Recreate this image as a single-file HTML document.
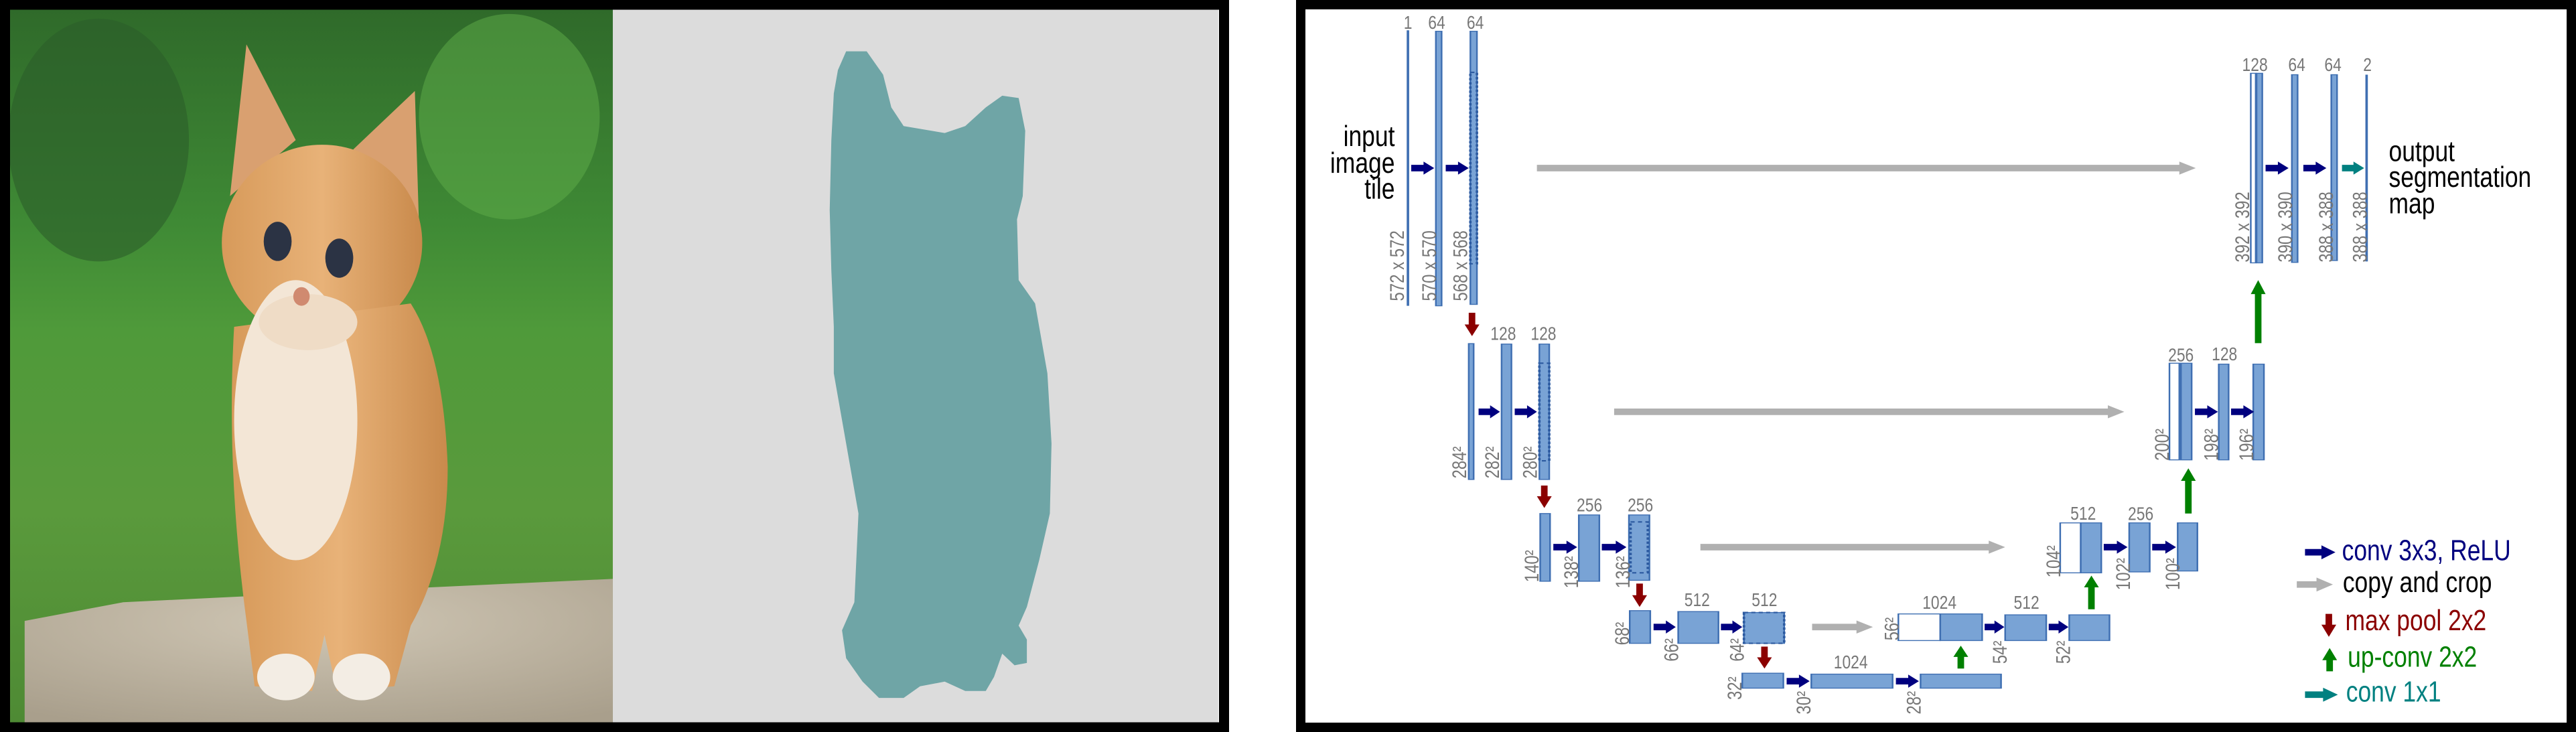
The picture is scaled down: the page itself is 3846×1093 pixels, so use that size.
<!DOCTYPE html>
<html><head><meta charset="utf-8"><style>
html,body{margin:0;padding:0;background:#fff;width:3846px;height:1093px;overflow:hidden}
svg{display:block}
.bar{fill:#79a3d5;stroke:#3f6fb2;stroke-width:2}
.wbar{fill:#fff;stroke:#3f6fb2;stroke-width:2}
.lbl{font-family:"Liberation Sans",sans-serif;fill:#777}
.big{font-family:"Liberation Sans",sans-serif}
</style></head><body>
<svg width="3846" height="1093" viewBox="0 0 3846 1093" xmlns="http://www.w3.org/2000/svg">
<defs>
<linearGradient id="bg" x1="0" y1="0" x2="0" y2="1">
<stop offset="0" stop-color="#2f6a2a"/><stop offset="0.3" stop-color="#3f8a35"/><stop offset="0.45" stop-color="#4f9a3a"/><stop offset="0.7" stop-color="#5a9a3c"/><stop offset="1" stop-color="#4e8a34"/></linearGradient>
<linearGradient id="fur" x1="0" y1="0" x2="1" y2="0"><stop offset="0" stop-color="#d79a5a"/><stop offset="0.5" stop-color="#e8b278"/><stop offset="1" stop-color="#c98a4c"/></linearGradient>
<radialGradient id="rock" cx="0.5" cy="0.3" r="0.8"><stop offset="0" stop-color="#cfc6b4"/><stop offset="1" stop-color="#a99f8c"/></radialGradient>
</defs>

<g transform="scale(1.2265,0.6971)">
 <rect x="12" y="20" width="734" height="1530" fill="url(#bg)"/>
 <ellipse cx="120" cy="300" rx="110" ry="260" fill="#2c5e2a" opacity="0.6"/>
 <ellipse cx="620" cy="250" rx="110" ry="220" fill="#5fae4a" opacity="0.5"/>
 <polygon points="30,1330 150,1290 500,1260 746,1240 746,1548 30,1548" fill="url(#rock)"/>
 <polygon points="280,420 300,95 360,300" fill="#d9a070"/>
 <polygon points="430,320 505,195 510,480" fill="#d9a070"/>
 <ellipse cx="392" cy="520" rx="122" ry="210" fill="url(#fur)"/>
 <path d="M285,700 Q275,1000 300,1330 L310,1470 L380,1480 L395,1360 L410,1480 L480,1470 L500,1340 Q545,1200 545,1000 Q540,760 500,650 Z" fill="url(#fur)"/>
 <ellipse cx="360" cy="900" rx="75" ry="300" fill="#f3e6d6"/>
 <ellipse cx="375" cy="690" rx="60" ry="60" fill="#efdcc6"/>
 <ellipse cx="348" cy="1450" rx="35" ry="50" fill="#f3ede4"/>
 <ellipse cx="440" cy="1450" rx="35" ry="50" fill="#f3ede4"/>
 <ellipse cx="338" cy="517" rx="17" ry="42" fill="#2b3344"/>
 <ellipse cx="413" cy="553" rx="17" ry="42" fill="#2b3344"/>
 <ellipse cx="367" cy="635" rx="10" ry="20" fill="#d08a70"/>
 <rect x="746" y="20" width="737" height="1530" fill="#dcdcdc"/>
 <path fill="#6fa5a6" d="M1030,110 L1055,110 L1075,160 L1085,230 L1100,270 L1150,285 L1175,270 L1200,230 L1220,205 L1240,210 L1248,280 L1245,420 L1238,470 L1240,600 L1260,650 L1275,800 L1280,950 L1278,1100 L1265,1200 L1250,1300 L1240,1340 L1250,1370 L1250,1420 L1235,1425 L1220,1400 L1210,1450 L1200,1480 L1175,1480 L1150,1460 L1120,1470 L1100,1495 L1070,1495 L1050,1460 L1030,1410 L1025,1350 L1040,1290 L1045,1100 L1030,950 L1015,800 L1015,700 L1012,580 L1010,450 L1012,300 L1015,200 L1020,150 Z"/>
</g>
<rect x="7.5" y="7" width="1820" height="1079" fill="none" stroke="#000" stroke-width="15"/>

<rect x="1942" y="7" width="1897" height="1079" fill="none" stroke="#000" stroke-width="14"/>
<g transform="translate(1923,0) scale(1.2265,0.6971)">
<line x1="146" y1="65" x2="146" y2="655" stroke="#3f6fb2" stroke-width="3"/>
<rect class="bar" x="180" y="67" width="7" height="588"/>
<rect class="bar" x="222" y="67" width="8" height="585"/>
<rect x="222" y="155" width="8" height="410" fill="none" stroke="#2c5aa0" stroke-width="3" stroke-dasharray="5,4"/>
<polygon fill="#00007f" points="150,353 165,353 165,346 178,360 165,374 165,367 150,367"/>
<polygon fill="#00007f" points="192,353 207,353 207,346 220,360 207,374 207,367 192,367"/>
<polygon fill="#b0b0b0" points="303,353 1085,353 1085,346 1105,360 1085,374 1085,367 303,367"/>
<rect class="wbar" x="1172" y="157" width="6" height="406"/>
<rect class="bar" x="1179" y="157" width="7" height="406"/>
<rect class="bar" x="1222" y="160" width="7" height="402"/>
<rect class="bar" x="1270" y="160" width="7" height="398"/>
<line x1="1313" y1="160" x2="1313" y2="560" stroke="#3f6fb2" stroke-width="3"/>
<polygon fill="#00007f" points="1190,353 1205,353 1205,346 1218,360 1205,374 1205,367 1190,367"/>
<polygon fill="#00007f" points="1236,353 1251,353 1251,346 1264,360 1251,374 1251,367 1236,367"/>
<polygon fill="#008080" points="1283,353 1297,353 1297,346 1310,360 1297,374 1297,367 1283,367"/>
<polygon fill="#008000" points="1177,735 1177,630 1172,630 1181,600 1190,630 1185,630 1185,735"/>
<polygon fill="#8b0000" points="220,670 228,670 228,695 233,695 224,720 215,695 220,695"/>
<rect class="bar" x="220" y="736" width="6" height="291"/>
<rect class="bar" x="260" y="737" width="12" height="290"/>
<rect class="bar" x="306" y="737" width="12" height="290"/>
<rect x="306" y="778" width="12" height="209" fill="none" stroke="#2c5aa0" stroke-width="3" stroke-dasharray="5,4"/>
<polygon fill="#00007f" points="232,875 246,875 246,868 258,882 246,896 246,889 232,889"/>
<polygon fill="#00007f" points="276,875 291,875 291,868 303,882 291,896 291,889 276,889"/>
<polygon fill="#b0b0b0" points="397,875 998,875 998,868 1018,882 998,896 998,889 397,889"/>
<rect class="wbar" x="1073" y="778" width="12" height="207"/>
<rect class="bar" x="1087" y="778" width="13" height="207"/>
<rect class="bar" x="1133" y="780" width="12" height="205"/>
<rect class="bar" x="1175" y="780" width="13" height="205"/>
<polygon fill="#00007f" points="1104,875 1119,875 1119,868 1132,882 1119,896 1119,889 1104,889"/>
<polygon fill="#00007f" points="1148,875 1163,875 1163,868 1176,882 1163,896 1163,889 1148,889"/>
<polygon fill="#008000" points="1092,1100 1092,1030 1087,1030 1096,1003 1105,1030 1100,1030 1100,1100"/>
<polygon fill="#8b0000" points="308,1040 316,1040 316,1063 321,1063 312,1088 303,1063 308,1063"/>
<rect class="bar" x="307" y="1100" width="12" height="145"/>
<rect class="bar" x="354" y="1103" width="25" height="142"/>
<rect class="bar" x="415" y="1103" width="25" height="140"/>
<rect x="417" y="1118" width="21" height="109" fill="none" stroke="#2c5aa0" stroke-width="3" stroke-dasharray="5,4"/>
<polygon fill="#00007f" points="323,1165 339,1165 339,1158 352,1172 339,1186 339,1179 323,1179"/>
<polygon fill="#00007f" points="382,1165 399,1165 399,1158 412,1172 399,1186 399,1179 382,1179"/>
<polygon fill="#b0b0b0" points="502,1165 853,1165 853,1158 873,1172 853,1186 853,1179 502,1179"/>
<rect class="wbar" x="940" y="1120" width="25" height="107"/>
<rect class="bar" x="965" y="1120" width="25" height="107"/>
<rect class="bar" x="1024" y="1120" width="25" height="105"/>
<rect class="bar" x="1083" y="1120" width="24" height="103"/>
<polygon fill="#00007f" points="993,1165 1009,1165 1009,1158 1022,1172 1009,1186 1009,1179 993,1179"/>
<polygon fill="#00007f" points="1052,1165 1068,1165 1068,1158 1081,1172 1068,1186 1068,1179 1052,1179"/>
<polygon fill="#008000" points="974,1305 974,1258 969,1258 978,1233 987,1258 982,1258 982,1305"/>
<polygon fill="#8b0000" points="424,1250 432,1250 432,1275 437,1275 428,1300 419,1275 424,1275"/>
<rect class="bar" x="416" y="1308" width="25" height="70"/>
<rect class="bar" x="475" y="1310" width="49" height="68"/>
<rect class="bar" x="555" y="1312" width="49" height="66"/>
<rect x="555" y="1312" width="49" height="66" fill="none" stroke="#2c5aa0" stroke-width="3" stroke-dasharray="5,4"/>
<polygon fill="#00007f" points="445,1336 460,1336 460,1329 472,1343 460,1357 460,1350 445,1350"/>
<polygon fill="#00007f" points="527,1336 541,1336 541,1329 553,1343 541,1357 541,1350 527,1350"/>
<polygon fill="#b0b0b0" points="638,1336 692,1336 692,1329 712,1343 692,1357 692,1350 638,1350"/>
<rect class="wbar" x="743" y="1315" width="51" height="57"/>
<rect class="bar" x="794" y="1315" width="51" height="57"/>
<rect class="bar" x="873" y="1317" width="50" height="55"/>
<rect class="bar" x="951" y="1317" width="49" height="55"/>
<polygon fill="#00007f" points="848,1336 860,1336 860,1329 872,1343 860,1357 860,1350 848,1350"/>
<polygon fill="#00007f" points="926,1336 938,1336 938,1329 950,1343 938,1357 938,1350 926,1350"/>
<polygon fill="#008000" points="815,1432 815,1407 810,1407 819,1383 828,1407 823,1407 823,1432"/>
<polygon fill="#8b0000" points="576,1385 584,1385 584,1408 589,1408 580,1432 571,1408 576,1408"/>
<rect class="bar" x="553" y="1442" width="50" height="32"/>
<rect class="bar" x="637" y="1444" width="99" height="30"/>
<rect class="bar" x="770" y="1444" width="98" height="30"/>
<polygon fill="#00007f" points="607,1452 622,1452 622,1445 635,1459 622,1473 622,1466 607,1466"/>
<polygon fill="#00007f" points="740,1452 755,1452 755,1445 768,1459 755,1473 755,1466 740,1466"/>
<polygon fill="#00007f" points="1238,1176 1258,1176 1258,1168 1275,1183 1258,1198 1258,1190 1238,1190"/>
<polygon fill="#b0b0b0" points="1228,1245 1252,1245 1252,1237 1272,1252 1252,1267 1252,1259 1228,1259"/>
<polygon fill="#8b0000" points="1263,1315 1271,1315 1271,1338 1276,1338 1267,1364 1258,1338 1263,1338"/>
<polygon fill="#008000" points="1264,1438 1264,1414 1259,1414 1268,1388 1277,1414 1272,1414 1272,1438"/>
<polygon fill="#008080" points="1238,1481 1260,1481 1260,1473 1278,1488 1260,1503 1260,1495 1238,1495"/>

<g class="big" font-size="62">
<text text-anchor="end" transform="translate(130,313) scale(0.466,1)">input</text>
<text text-anchor="end" transform="translate(130,370) scale(0.466,1)">image</text>
<text text-anchor="end" transform="translate(130,425) scale(0.466,1)">tile</text>
<text transform="translate(1340,345) scale(0.466,1)">output</text>
<text transform="translate(1340,400) scale(0.466,1)">segmentation</text>
<text transform="translate(1340,457) scale(0.466,1)">map</text>
<text fill="#00007f" transform="translate(1283,1200) scale(0.466,1)">conv 3x3, ReLU</text>
<text fill="#000" transform="translate(1284,1268) scale(0.466,1)">copy and crop</text>
<text fill="#8b0000" transform="translate(1287,1350) scale(0.466,1)">max pool 2x2</text>
<text fill="#008000" transform="translate(1290,1428) scale(0.466,1)">up-conv 2x2</text>
<text fill="#008080" transform="translate(1288,1503) scale(0.466,1)">conv 1x1</text>
</g>
<g class="lbl" font-size="40" text-anchor="middle">
<text transform="translate(146,62) scale(0.466,1)">1</text>
<text transform="translate(181,62) scale(0.466,1)">64</text>
<text transform="translate(228,62) scale(0.466,1)">64</text>
<text transform="translate(262,728) scale(0.466,1)">128</text>
<text transform="translate(311,728) scale(0.466,1)">128</text>
<text transform="translate(367,1095) scale(0.466,1)">256</text>
<text transform="translate(429,1095) scale(0.466,1)">256</text>
<text transform="translate(498,1298) scale(0.466,1)">512</text>
<text transform="translate(580,1298) scale(0.466,1)">512</text>
<text transform="translate(685,1432) scale(0.466,1)">1024</text>
<text transform="translate(793,1304) scale(0.466,1)">1024</text>
<text transform="translate(899,1304) scale(0.466,1)">512</text>
<text transform="translate(968,1113) scale(0.466,1)">512</text>
<text transform="translate(1038,1114) scale(0.466,1)">256</text>
<text transform="translate(1087,774) scale(0.466,1)">256</text>
<text transform="translate(1140,772) scale(0.466,1)">128</text>
<text transform="translate(1177,152) scale(0.466,1)">128</text>
<text transform="translate(1228,152) scale(0.466,1)">64</text>
<text transform="translate(1272,152) scale(0.466,1)">64</text>
<text transform="translate(1314,152) scale(0.466,1)">2</text>
</g>
<g class="lbl" font-size="42">
<text transform="translate(141,645) scale(0.5683,1) rotate(-90) scale(0.82,1)">572 x 572</text>
<text transform="translate(180,645) scale(0.5683,1) rotate(-90) scale(0.82,1)">570 x 570</text>
<text transform="translate(218,645) scale(0.5683,1) rotate(-90) scale(0.82,1)">568 x 568</text>
<text transform="translate(217,1025) scale(0.5683,1) rotate(-90) scale(0.82,1)">284²</text>
<text transform="translate(257,1025) scale(0.5683,1) rotate(-90) scale(0.82,1)">282²</text>
<text transform="translate(303,1025) scale(0.5683,1) rotate(-90) scale(0.82,1)">280²</text>
<text transform="translate(305,1247) scale(0.5683,1) rotate(-90) scale(0.82,1)">140²</text>
<text transform="translate(353,1260) scale(0.5683,1) rotate(-90) scale(0.82,1)">138²</text>
<text transform="translate(416,1260) scale(0.5683,1) rotate(-90) scale(0.82,1)">136²</text>
<text transform="translate(415,1382) scale(0.5683,1) rotate(-90) scale(0.82,1)">68²</text>
<text transform="translate(475,1417) scale(0.5683,1) rotate(-90) scale(0.82,1)">66²</text>
<text transform="translate(555,1417) scale(0.5683,1) rotate(-90) scale(0.82,1)">64²</text>
<text transform="translate(552,1499) scale(0.5683,1) rotate(-90) scale(0.82,1)">32²</text>
<text transform="translate(636,1530) scale(0.5683,1) rotate(-90) scale(0.82,1)">30²</text>
<text transform="translate(770,1530) scale(0.5683,1) rotate(-90) scale(0.82,1)">28²</text>
<text transform="translate(743,1372) scale(0.5683,1) rotate(-90) scale(0.82,1)">56²</text>
<text transform="translate(875,1422) scale(0.5683,1) rotate(-90) scale(0.82,1)">54²</text>
<text transform="translate(952,1422) scale(0.5683,1) rotate(-90) scale(0.82,1)">52²</text>
<text transform="translate(940,1237) scale(0.5683,1) rotate(-90) scale(0.82,1)">104²</text>
<text transform="translate(1025,1264) scale(0.5683,1) rotate(-90) scale(0.82,1)">102²</text>
<text transform="translate(1085,1264) scale(0.5683,1) rotate(-90) scale(0.82,1)">100²</text>
<text transform="translate(1072,987) scale(0.5683,1) rotate(-90) scale(0.82,1)">200²</text>
<text transform="translate(1132,987) scale(0.5683,1) rotate(-90) scale(0.82,1)">198²</text>
<text transform="translate(1175,987) scale(0.5683,1) rotate(-90) scale(0.82,1)">196²</text>
<text transform="translate(1170,562) scale(0.5683,1) rotate(-90) scale(0.82,1)">392 x 392</text>
<text transform="translate(1222,562) scale(0.5683,1) rotate(-90) scale(0.82,1)">390 x 390</text>
<text transform="translate(1272,562) scale(0.5683,1) rotate(-90) scale(0.82,1)">388 x 388</text>
<text transform="translate(1313,562) scale(0.5683,1) rotate(-90) scale(0.82,1)">388 x 388</text>
</g>
</g>
</svg>
</body></html>
